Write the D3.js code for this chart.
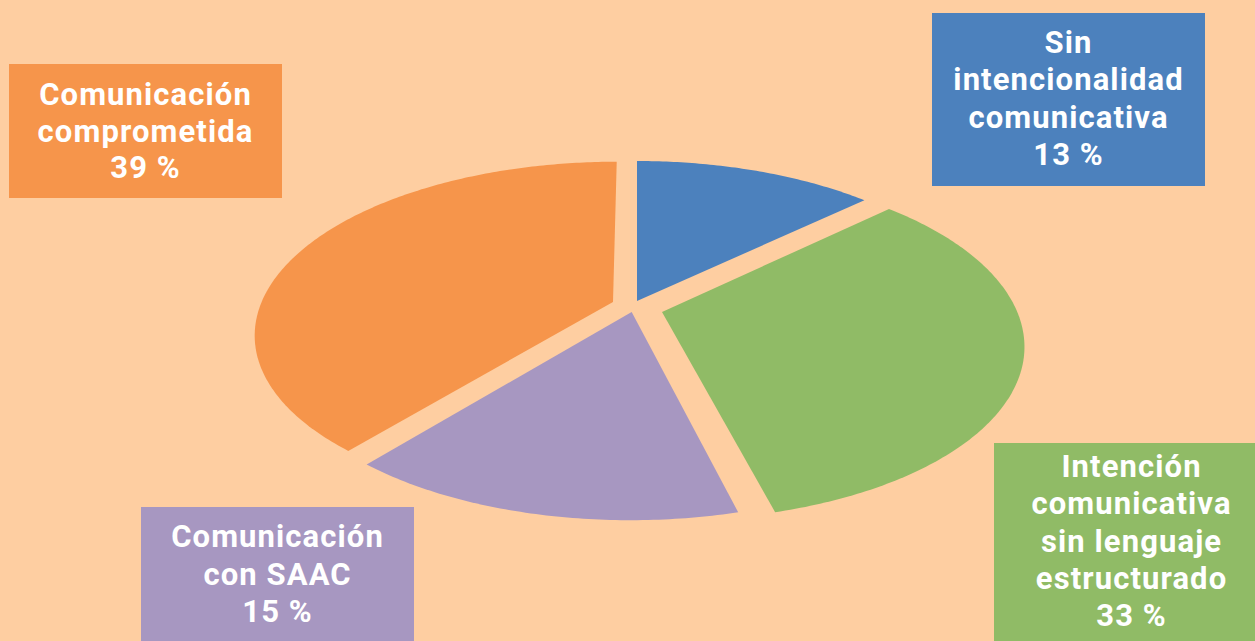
<!DOCTYPE html>
<html>
<head>
<meta charset="utf-8">
<script src="https://cdn.jsdelivr.net/npm/d3@7"></script>
<style>
  html, body { margin: 0; padding: 0; background: #FECEA1; }
  svg { display: block; }
</style>
</head>
<body>
<svg id="chart" width="1255" height="641"></svg>
<script>
// ---- data ----
const categories = [
  "Sin intencionalidad comunicativa",
  "Intención comunicativa sin lenguaje estructurado",
  "Comunicación con SAAC",
  "Comunicación comprometida"
];
const values = [13, 33, 15, 39];
const labelLines = [
  ["Sin", "intencionalidad", "comunicativa", "13 %"],
  ["Intención", "comunicativa", "sin lenguaje", "estructurado", "33 %"],
  ["Comunicación", "con SAAC", "15 %"],
  ["Comunicación", "comprometida", "39 %"]
];
const colors = ["#4C81BD", "#90BB66", "#A797C1", "#F6954B"];

// ---- layout constants ----
const W = 1255, H = 641;
const cx = 637, cy = 301;           // vanishing x / pie centre on screen
const sx = 351, sy = 165.6, persp = 0.183;  // perspective projection params
// per-slice explosion offset in the pie plane (x: right, d: depth/back)
const explode = [[0, 0], [0.0704, -0.0656], [-0.0150, -0.0656], [-0.0683, -0.006]];
// label boxes [x, y, w, h, textCenterX, firstBaseline, lineStep]
const boxes = [
  [932, 13, 273, 173, 1068, 53, 37.3],
  [994, 443, 270, 210, 1131, 477, 37.3],
  [141, 507, 273, 150, 277, 547, 37.5],
  [9, 64, 273, 134, 145, 105, 36.5]
];
const fontSize = 31, letterSpacing = 1.1;

const svg = d3.select("#chart");
svg.append("rect").attr("width", W).attr("height", H).attr("fill", "#FECEA1");

const pie = d3.pie().sort(null).startAngle(0).endAngle(2 * Math.PI);
const arcs = pie(values);

function project(x, d) {
  const w = 1 + persp * d;
  return [cx + sx * x / w, cy - sy * d / w];
}

const line = d3.line().curve(d3.curveLinearClosed);

arcs.forEach((a, i) => {
  const [ox, od] = explode[i];
  const pts = [project(ox, od)];
  const n = Math.max(8, Math.ceil((a.endAngle - a.startAngle) * 80));
  for (let k = 0; k <= n; k++) {
    const t = a.startAngle + (a.endAngle - a.startAngle) * k / n;
    pts.push(project(Math.sin(t) + ox, Math.cos(t) + od));
  }
  svg.append("path")
    .attr("d", line(pts))
    .attr("fill", colors[i]);
});

// labels
boxes.forEach((b, i) => {
  const [bx, by, bw, bh, tx, base, step] = b;
  svg.append("rect")
    .attr("x", bx).attr("y", by).attr("width", bw).attr("height", bh)
    .attr("fill", colors[i]);
  const t = svg.append("text")
    .attr("text-anchor", "middle")
    .attr("font-family", "Roboto, 'Open Sans', sans-serif")
    .attr("font-weight", "bold")
    .attr("font-size", fontSize)
    .attr("letter-spacing", letterSpacing)
    .attr("fill", "#FFFFFF");
  labelLines[i].forEach((ln, j) => {
    t.append("tspan").attr("x", tx + letterSpacing / 2).attr("y", base + j * step).text(ln);
  });
});
</script>
</body>
</html>
